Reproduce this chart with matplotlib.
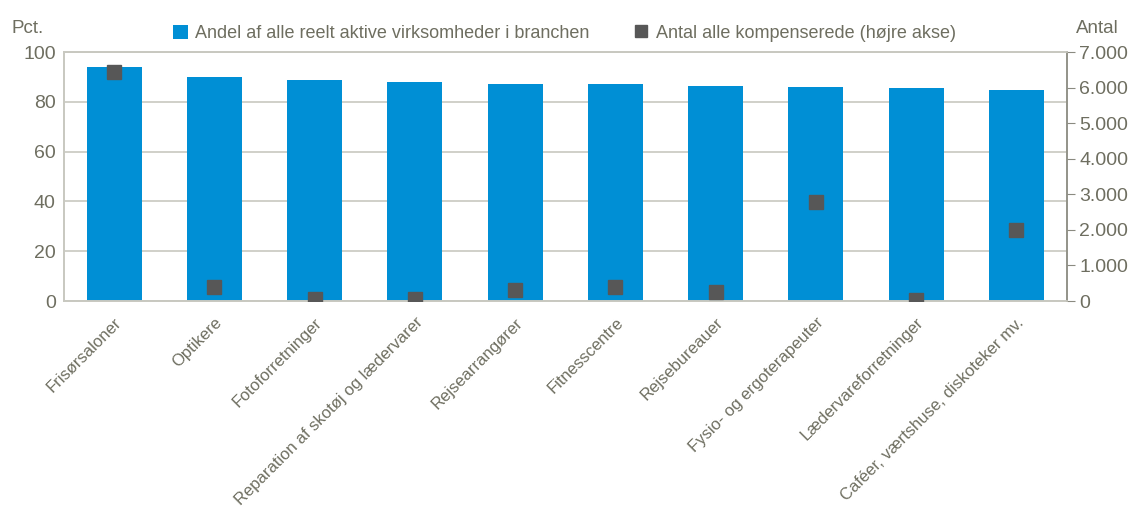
import matplotlib.pyplot as plt
from matplotlib.ticker import FuncFormatter

CATEGORIES = [
    "Frisørsaloner",
    "Optikere",
    "Fotoforretninger",
    "Reparation af skotøj og lædervarer",
    "Rejsearrangører",
    "Fitnesscentre",
    "Rejsebureauer",
    "Fysio- og ergoterapeuter",
    "Lædervareforretninger",
    "Caféer, værtshuse, diskoteker mv.",
]
SHARE_PCT = [94.0, 90.0, 88.8, 87.8, 87.3, 87.0, 86.4, 86.1, 85.6, 84.7]
COMPENSATED = [6430, 390, 60, 60, 300, 400, 250, 2780, 30, 2000]

BAR_LABEL = "Andel af alle reelt aktive virksomheder i branchen"
MARKER_LABEL = "Antal alle kompenserede (højre akse)"

BAR_COLOR = "#008fd5"
MARKER_COLOR = "#575757"
TEXT_COLOR = "#6e6e60"
GRID_COLOR = "#c8c8c0"

plt.rcParams["font.family"] = ["Liberation Sans", "DejaVu Sans"]

fig = plt.figure(figsize=(11.29, 5.15), dpi=100)
ax = fig.add_axes([0.0567, 0.4155, 0.888, 0.4835])
ax2 = ax.twinx()

x = list(range(len(CATEGORIES)))
ax.bar(x, SHARE_PCT, width=0.55, color=BAR_COLOR, label=BAR_LABEL, zorder=2)
ax2.plot(x, COMPENSATED, linestyle="none", marker="s", markersize=10,
         color=MARKER_COLOR, label=MARKER_LABEL, zorder=3)

ax.set_xlim(-0.5, len(CATEGORIES) - 0.5)
ax.set_ylim(0, 100)
ax.set_yticks(range(0, 101, 20))
ax2.set_ylim(0, 7000)
ax2.set_yticks(range(0, 7001, 1000))
ax2.yaxis.set_major_formatter(FuncFormatter(lambda v, p: f"{int(v):,}".replace(",", ".")))

ax.grid(True, axis="y", color=GRID_COLOR, linewidth=1.2, zorder=0)
ax.set_axisbelow(True)

for a in (ax, ax2):
    for side in ("left", "right", "top", "bottom"):
        a.spines[side].set_color(GRID_COLOR)
        a.spines[side].set_linewidth(1.2)
ax2.spines["right"].set_color("#8a8a80")

ax.tick_params(axis="y", length=0, labelsize=14, labelcolor=TEXT_COLOR, pad=6)
ax2.tick_params(axis="y", length=6, color="#8a8a80", labelsize=14,
                labelcolor=TEXT_COLOR, pad=3)
ax.tick_params(axis="x", length=0, pad=10)

ax.set_xticks(x)
ax.set_xticklabels(CATEGORIES, rotation=45, ha="right", rotation_mode="anchor",
                   fontsize=12, color=TEXT_COLOR)

fig.text(0.010, 0.935, "Pct.", fontsize=13.5, color=TEXT_COLOR)
fig.text(0.953, 0.935, "Antal", fontsize=13.5, color=TEXT_COLOR)

handles = [ax.patches[0], ax2.lines[0]]
fig.legend(handles, [BAR_LABEL, MARKER_LABEL], loc="center", ncol=2,
           bbox_to_anchor=(0.5, 0.935), frameon=False, fontsize=13,
           labelcolor=TEXT_COLOR, handlelength=0.8, handleheight=0.8,
           handletextpad=0.4, columnspacing=2.5, markerscale=0.8)

fig.savefig("out.png", dpi=100)
